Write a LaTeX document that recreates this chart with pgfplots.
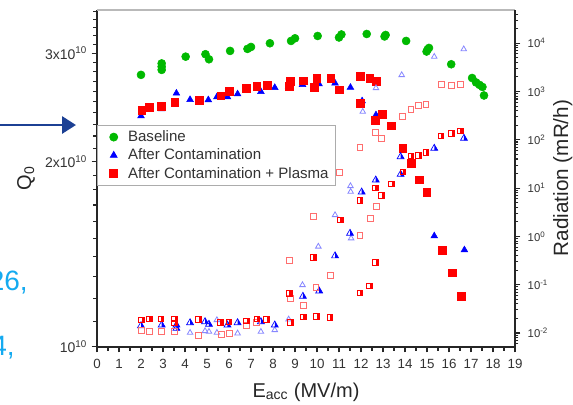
\documentclass[border=0pt]{standalone}
\usepackage{fontspec}
\setmainfont{Liberation Sans}
\usepackage{pgfplots}
\pgfplotsset{compat=1.18}
\usetikzlibrary{arrows.meta}

\definecolor{bgreen}{RGB}{0,185,0}
\definecolor{dblue}{RGB}{0,0,255}
\definecolor{dred}{RGB}{255,0,0}
\definecolor{lblue}{RGB}{135,135,255}
\definecolor{lred}{RGB}{255,110,110}
\definecolor{arrowblue}{RGB}{28,64,148}
\definecolor{txtblue}{RGB}{20,170,240}

\pgfdeclareplotmark{halfsqR}{%
  \pgfpathrectangle{\pgfqpoint{0pt}{-\pgfplotmarksize}}{\pgfqpoint{\pgfplotmarksize}{2\pgfplotmarksize}}%
  \pgfusepathqfill
  \pgfpathrectangle{\pgfqpoint{-\pgfplotmarksize}{-\pgfplotmarksize}}{\pgfqpoint{2\pgfplotmarksize}{2\pgfplotmarksize}}%
  \pgfusepathqstroke
}
\pgfdeclareplotmark{halftriR}{%
  \pgfpathmoveto{\pgfqpoint{0pt}{1.2\pgfplotmarksize}}%
  \pgfpathlineto{\pgfqpoint{1.039\pgfplotmarksize}{-0.6\pgfplotmarksize}}%
  \pgfpathlineto{\pgfqpoint{0pt}{-0.6\pgfplotmarksize}}%
  \pgfpathclose
  \pgfusepathqfill
  \pgfpathmoveto{\pgfqpoint{0pt}{1.2\pgfplotmarksize}}%
  \pgfpathlineto{\pgfqpoint{-1.039\pgfplotmarksize}{-0.6\pgfplotmarksize}}%
  \pgfpathlineto{\pgfqpoint{1.039\pgfplotmarksize}{-0.6\pgfplotmarksize}}%
  \pgfpathclose
  \pgfusepathqstroke
}

\begin{document}
\begin{tikzpicture}
% ---------------- left axis: Q0 ----------------
\begin{axis}[
  at={(72.75pt,-260.25pt)}, anchor=south west,
  scale only axis, width=313.5pt, height=252.75pt,
  xmin=0, xmax=19,
  ymode=log, ymin=1e10, ymax=3.525e10,
  axis x line*=bottom, axis y line*=left,
  axis line style={line width=1.1pt, black!85},
  every tick/.style={black!85, line width=0.8pt},
  tick align=outside,
  major tick length=4pt, minor tick length=3pt,
  xtick={0,...,19}, minor xtick={0.5,1.5,...,18.5},
  xticklabels={0,1,2,3,4,5,6,7,8,9,10,11,12,13,14,15,16,17,18,19},
  x tick label style={font=\fontsize{10}{12}\selectfont, text=black!80, yshift=-2pt},
  ytick={1e10,2e10,3e10},
  yticklabels={10\textsuperscript{10},2x10\textsuperscript{10},3x10\textsuperscript{10}},
  y tick label style={font=\fontsize{10.5}{12}\selectfont, text=black!80},
  minor ytick={1.1e10,1.2e10,1.3e10,1.4e10,1.5e10,1.6e10,1.7e10,1.8e10,1.9e10,
               2.1e10,2.2e10,2.3e10,2.4e10,2.5e10,2.6e10,2.7e10,2.8e10,2.9e10,
               3.1e10,3.2e10,3.3e10,3.4e10,3.5e10},
  legend style={at={(0,0.6588)}, anchor=north west, draw=gray!65, line width=0.6pt,
                fill=white, inner xsep=3pt, inner ysep=2pt,
                font=\fontsize{11.3}{13}\selectfont,
                nodes={inner sep=2pt, text depth=0.15em, text=black!80}},
  legend cell align=left,
  legend image code/.code={%
    \path[draw=none, fill=none] (0pt,0pt) rectangle (18pt,0pt);
    \draw[#1, /tikz/only marks] plot coordinates {(9.25pt,0pt)};},
]
\addplot[only marks, mark=*, mark size=3pt, color=bgreen, mark options={draw=bgreen, fill=bgreen}] coordinates {
(2.00,2.765e10) (2.94,2.886e10) (2.94,2.851e10) (2.94,2.817e10) (4.03,2.960e10)
(4.93,2.987e10) (5.09,2.931e10) (6.05,3.024e10) (6.84,3.047e10) (7.00,3.069e10)
(7.86,3.112e10) (8.82,3.139e10) (9.00,3.170e10) (10.03,3.198e10) (11.00,3.180e10)
(11.11,3.216e10) (12.26,3.222e10) (13.07,3.192e10) (13.12,3.210e10) (14.05,3.139e10)
(14.98,3.017e10) (15.03,3.041e10) (15.09,3.058e10) (16.10,2.877e10) (17.05,2.733e10)
(17.23,2.688e10) (17.39,2.663e10) (17.52,2.643e10) (17.59,2.560e10)
};
\addlegendentry{Baseline}
\addplot[only marks, mark=triangle*, mark size=2.9pt, color=dblue, mark options={draw=dblue, fill=dblue}] coordinates {
(2.00,2.371e10) (2.94,2.434e10) (3.61,2.581e10) (4.23,2.520e10) (5.06,2.518e10)
(5.45,2.546e10) (5.93,2.546e10) (6.39,2.574e10) (7.45,2.597e10) (8.08,2.636e10)
(8.71,2.646e10) (9.34,2.666e10) (10.09,2.673e10) (10.82,2.680e10) (11.52,2.638e10)
(12.05,2.508e10) (12.68,2.380e10) (15.33,1.514e10) (16.70,1.437e10)
};
\addlegendentry{After Contamination}
\addplot[only marks, mark=square*, mark size=2.9pt, color=dred, mark options={draw=dred, fill=dred}] coordinates {
(2.03,2.425e10) (2.38,2.448e10) (2.91,2.462e10) (3.53,2.498e10) (4.64,2.518e10)
(5.63,2.558e10) (6.00,2.599e10) (6.80,2.633e10) (7.26,2.650e10) (7.73,2.663e10)
(8.73,2.648e10) (8.80,2.698e10) (9.38,2.706e10) (9.88,2.640e10) (9.99,2.733e10)
(10.62,2.730e10) (11.01,2.614e10) (11.97,2.754e10) (12.40,2.730e10) (12.68,2.703e10)
(11.95,2.486e10) (12.65,2.333e10) (12.98,2.385e10) (13.36,2.285e10) (13.90,2.099e10)
(14.29,1.987e10) (14.65,1.869e10) (14.99,1.781e10) (15.70,1.437e10) (16.15,1.320e10)
(16.55,1.207e10)
};
\addlegendentry{After Contamination + Plasma}
\draw[gray!55, line width=1.2pt] (rel axis cs:0,1) -- (rel axis cs:1,1);
\end{axis}

% ---------------- right axis: radiation ----------------
\begin{axis}[
  at={(72.75pt,-260.25pt)}, anchor=south west,
  scale only axis, width=313.5pt, height=252.75pt,
  xmin=0, xmax=19,
  axis x line=none, axis y line*=right,
  ymode=log, ymin=5.129e-3, ymax=4.868e4,
  axis line style={line width=1.1pt, black!85},
  every tick/.style={black!85, line width=0.8pt},
  tick align=outside,
  major tick length=4pt, minor tick length=2.5pt,
  ytick={1e-2,1e-1,1,10,100,1000,10000},
  yticklabels={10\textsuperscript{-2},10\textsuperscript{-1},10\textsuperscript{0},10\textsuperscript{1},10\textsuperscript{2},10\textsuperscript{3},10\textsuperscript{4}},
  y tick label style={font=\fontsize{8.5}{10}\selectfont, text=black!80, xshift=2pt},
  minor ytick={6e-3,7e-3,8e-3,9e-3,
    2e-2,3e-2,4e-2,5e-2,6e-2,7e-2,8e-2,9e-2,
    0.2,0.3,0.4,0.5,0.6,0.7,0.8,0.9,
    2,3,4,5,6,7,8,9,
    20,30,40,50,60,70,80,90,
    200,300,400,500,600,700,800,900,
    2000,3000,4000,5000,6000,7000,8000,9000,
    20000,30000,40000},
]
% After Contamination radiation (open triangles)
\addplot[only marks, mark=triangle, mark size=2.4pt, color=lblue, mark options={draw=lblue, line width=0.6pt}] coordinates {
(4.23,0.01014) (4.91,0.0110) (5.09,0.01064) (5.45,0.01858) (5.45,0.01014)
(6.39,0.00986) (7.45,0.01064) (8.08,0.01154) (8.71,0.01921) (9.34,0.0986)
(10.06,0.618) (10.82,2.773) (11.52,11.05) (11.53,8.42) (11.55,0.914)
(12.08,381.9) (12.68,1181) (13.85,2196) (15.33,5255) (16.67,7516)
};
% After Contamination radiation (half-filled triangles)
\addplot[only marks, mark=halftriR, mark size=2.5pt, color=dblue, mark options={draw=dblue, fill=dblue, line width=0.5pt}] coordinates {
(2.00,0.01416) (2.94,0.01465) (3.61,0.01465) (3.61,0.01251) (4.23,0.01634)
(4.91,0.01714) (5.09,0.01514) (5.93,0.01465) (6.39,0.01634) (7.45,0.01714)
(8.08,0.01465) (9.36,0.0575) (10.10,0.0741) (10.82,0.396) (11.50,1.159)
(12.03,8.30) (12.67,14.71) (13.80,44.7) (13.80,19.3) (15.33,66.7) (16.68,107.4)
};
% Plasma radiation (open squares)
\addplot[only marks, mark=square, mark size=2.2pt, color=lred, mark options={draw=lred, line width=0.6pt}] coordinates {
(2.03,0.01154) (2.38,0.0110) (2.91,0.01064) (3.52,0.01064) (4.60,0.00909)
(5.64,0.00931) (6.00,0.00986) (6.80,0.01416) (7.26,0.01665) (8.75,0.314)
(8.80,0.0523) (9.38,0.0371) (9.83,2.557) (9.95,0.0875) (10.59,0.1588)
(11.01,21.04) (11.95,70.9) (11.95,1.069) (12.41,2.37) (12.68,4.26)
(12.67,140.3) (12.94,107.4) (13.89,303.6) (14.27,434.3) (14.60,525.4)
(14.95,543) (15.67,1409) (16.12,1364) (16.50,1416)
};
% Plasma radiation (half-filled squares)
\addplot[only marks, mark=halfsqR, mark size=2.1pt, color=dred, mark options={draw=dred, fill=dred, line width=0.6pt}] coordinates {
(2.03,0.01858) (2.38,0.0195) (2.91,0.0195) (3.53,0.0195) (3.53,0.01634)
(4.62,0.01921) (5.61,0.01650) (6.00,0.01714) (6.80,0.0177) (7.26,0.0195)
(7.71,0.01921) (8.74,0.0664) (8.80,0.01650) (9.38,0.0217) (9.83,0.369)
(9.98,0.0222) (10.59,0.0209) (11.05,2.186) (11.95,5.54) (11.95,0.0673)
(12.39,0.0940) (12.66,0.291) (12.65,10.05) (12.94,7.03) (13.39,12.33)
(13.90,21.86) (14.27,46.2) (14.62,47.3) (14.95,54.6) (15.64,121)
(16.12,136.4) (16.52,153.6)
};
\end{axis}

% ---------------- labels ----------------
\node[rotate=90, anchor=base, inner sep=0pt, font=\fontsize{15}{17}\selectfont, text=black!85] at (23.25pt,-133.5pt) {Q\textsubscript{0}};
\node[rotate=90, anchor=base, inner sep=0pt, font=\fontsize{15.5}{17}\selectfont, text=black!85] at (426pt,-133.5pt) {Radiation (mR/h)};
\node[anchor=base, inner sep=0pt, font=\fontsize{15}{17}\selectfont, text=black!85] at (229.5pt,-297.75pt) {E\textsubscript{acc} (MV/m)};

% ---------------- slide decorations ----------------
\draw[arrowblue, line width=2.2pt, -{Triangle[length=10.5pt,width=12.75pt]}] (-5pt,-93.75pt) -- (57pt,-93.75pt);
\node[anchor=base east, inner sep=0pt, font=\fontsize{21}{24}\selectfont, text=txtblue] at (21pt,-217.5pt) {26,};
\node[anchor=base east, inner sep=0pt, font=\fontsize{21}{24}\selectfont, text=txtblue] at (11.25pt,-266.25pt) {4,};

\pgfresetboundingbox
\useasboundingbox (0pt,0pt) rectangle (429.75pt,-303pt);
\end{tikzpicture}
\end{document}
